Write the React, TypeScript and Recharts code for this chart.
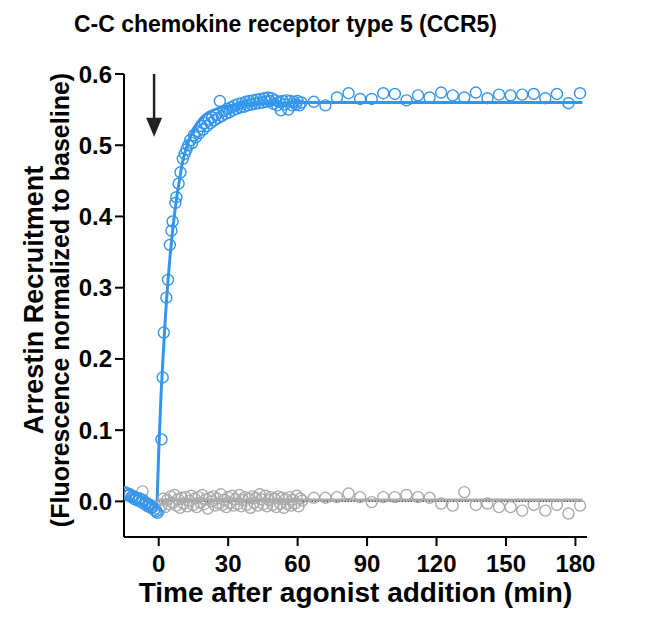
import React from "react";
import {
  ComposedChart,
  Scatter,
  Line,
  XAxis,
  YAxis,
  ReferenceLine,
} from "recharts";

const BLUE = "#3396EE";
const GRAY = "#ABABAB";
const FONT = "'Liberation Sans', Arial, Helvetica, sans-serif";

// [time (min), normalized fluorescence]
const bluePre: [number, number][] = [
  [-14.5, 0.013], [-13.8, 0.011], [-13.1, 0.008], [-12.4, 0.01], [-11.7, 0.006],
  [-11.0, 0.007], [-10.3, 0.003], [-9.6, 0.005], [-8.9, 0.001], [-8.2, 0.004],
  [-7.5, -0.001], [-6.8, 0.002], [-6.1, -0.004], [-5.4, -0.002], [-4.7, -0.007],
  [-4.0, -0.005], [-3.3, -0.009], [-2.6, -0.008], [-1.9, -0.012], [-1.2, -0.014],
  [-0.5, -0.016],
];

const blueRise: [number, number][] = [
  [1.2, 0.087], [1.7, 0.174], [2.2, 0.237], [3.3, 0.286], [4.0, 0.311],
  [4.8, 0.36], [5.5, 0.38], [6.0, 0.393], [7.2, 0.419], [7.6, 0.427],
  [8.6, 0.446], [9.4, 0.462], [10.4, 0.481],
];

const blueDense: [number, number][] = [
  [11.2, 0.488], [12.0, 0.494], [12.8, 0.5], [13.6, 0.507], [14.4, 0.503],
  [15.2, 0.514], [16.0, 0.511], [16.8, 0.52], [17.6, 0.517], [18.4, 0.527],
  [19.2, 0.522], [20.0, 0.531], [20.8, 0.527], [21.6, 0.536], [22.4, 0.531],
  [23.2, 0.539], [24.0, 0.535], [24.8, 0.543], [25.6, 0.538], [26.4, 0.562],
  [27.2, 0.541], [28.0, 0.548], [28.8, 0.544], [29.6, 0.551], [30.4, 0.546],
  [31.2, 0.553], [32.0, 0.549], [32.8, 0.556], [33.6, 0.551], [34.4, 0.558],
  [35.2, 0.553], [36.0, 0.559], [36.8, 0.554], [37.6, 0.561], [38.4, 0.556],
  [39.2, 0.562], [40.0, 0.557], [40.8, 0.563], [41.6, 0.558], [42.4, 0.564],
  [43.2, 0.559], [44.0, 0.565], [44.8, 0.56], [45.6, 0.566], [46.4, 0.561],
  [47.2, 0.567], [48.0, 0.562], [48.8, 0.566], [49.6, 0.558], [50.4, 0.563],
  [51.2, 0.556], [52.0, 0.561], [52.8, 0.549], [53.6, 0.562], [54.4, 0.557],
  [55.2, 0.563], [56.0, 0.55], [56.8, 0.562], [57.6, 0.556], [58.4, 0.561],
  [59.2, 0.557], [60.0, 0.562], [60.8, 0.556], [61.6, 0.56],
];

const bluePlateau: [number, number][] = [
  [67, 0.561], [72, 0.556], [77, 0.567], [82, 0.573], [87, 0.565], [92, 0.565],
  [97, 0.573], [102, 0.572], [107, 0.563], [112, 0.57], [117, 0.567], [122, 0.574],
  [127, 0.57], [132, 0.567], [137, 0.574], [142, 0.566], [147, 0.571], [152, 0.57],
  [157, 0.571], [162, 0.572], [167, 0.566], [172, 0.572], [177, 0.559], [182, 0.573],
];

const grayPre: [number, number][] = [
  [-14.2, 0.012], [-12.8, 0.009], [-11.3, 0.008], [-9.9, 0.005], [-8.4, 0.004],
  [-7.0, 0.014], [-5.6, -0.002], [-4.2, -0.004], [-2.8, -0.006], [-1.4, -0.01],
];

const grayDense: [number, number][] = [
  [0.4, -0.012], [1.2, -0.006], [2.0, 0.004], [2.8, -0.008], [3.6, 0.002],
  [4.4, -0.004], [5.2, 0.007], [6.0, -0.002], [6.8, 0.009], [7.6, -0.006],
  [8.4, 0.003], [9.2, -0.009], [10.0, 0.005], [10.8, -0.003], [11.6, 0.006],
  [12.4, -0.007], [13.2, 0.001], [14.0, 0.008], [14.8, -0.005], [15.6, 0.004],
  [16.4, -0.008], [17.2, 0.006], [18.0, -0.002], [18.8, 0.009], [19.6, -0.004],
  [20.4, 0.003], [21.2, -0.01], [22.0, 0.005], [22.8, 0.0], [23.6, 0.007],
  [24.4, -0.006], [25.2, 0.004], [26.0, -0.003], [26.8, 0.01], [27.6, -0.005],
  [28.4, 0.002], [29.2, -0.008], [30.0, 0.006], [30.8, -0.002], [31.6, 0.008],
  [32.4, -0.006], [33.2, 0.003], [34.0, -0.004], [34.8, 0.009], [35.6, -0.007],
  [36.4, 0.002], [37.2, 0.006], [38.0, -0.005], [38.8, 0.004], [39.6, -0.009],
  [40.4, 0.007], [41.2, -0.002], [42.0, 0.005], [42.8, -0.006], [43.6, 0.01],
  [44.4, 0.003], [45.2, -0.004], [46.0, 0.008], [46.8, -0.007], [47.6, 0.002],
  [48.4, 0.006], [49.2, -0.005], [50.0, 0.004], [50.8, -0.008], [51.6, 0.007],
  [52.4, -0.003], [53.2, 0.005], [54.0, -0.009], [54.8, 0.003], [55.6, -0.004],
  [56.4, 0.006], [57.2, -0.006], [58.0, 0.002], [58.8, -0.003], [59.6, 0.008],
  [60.4, -0.007], [61.2, 0.004], [62.0, 0.001],
];

const grayLate: [number, number][] = [
  [67, 0.005], [72, 0.005], [77, 0.006], [82, 0.011], [87, 0.006], [92, -0.001],
  [97, 0.006], [102, 0.006], [107, 0.009], [112, 0.006], [117, 0.005], [122, -0.003],
  [127, -0.006], [132, 0.013], [137, -0.005], [142, -0.003], [147, -0.008], [152, -0.008],
  [157, -0.013], [162, -0.005], [167, -0.013], [172, -0.005], [177, -0.017], [182, -0.006],
];

// fitted curves
const blueFit: [number, number][] = [
  [-0.7, 0.0], [0, 0.07], [1, 0.15], [2, 0.21], [3, 0.265], [4, 0.31], [5, 0.348],
  [6, 0.38], [7, 0.408], [8, 0.432], [9, 0.452], [10, 0.472], [12, 0.497],
  [14, 0.515], [16, 0.528], [18, 0.537], [20, 0.543], [25, 0.551], [30, 0.555],
  [40, 0.558], [50, 0.559], [60, 0.56], [183, 0.56],
];
const grayFit: [number, number][] = [[0, 0.002], [183, 0.002]];

const xTicks = [0, 30, 60, 90, 120, 150, 180];
const yTicks = [0, 0.1, 0.2, 0.3, 0.4, 0.5, 0.6];

const toPts = (arr: [number, number][]) => arr.map(([t, v]) => ({ t, v }));

const ring = (color: string) => (p: any) => (
  <circle cx={p.cx} cy={p.cy} r={5.5} fill="none" stroke={color} strokeWidth={1.4} />
);

const Arrow = (p: any) => {
  const { x1, y1, x2, y2 } = p;
  return (
    <g>
      <line x1={x1} y1={y1} x2={x2} y2={y2 - 16} stroke="#222" strokeWidth={2.5} />
      <polygon points={`${x2 - 8},${y2 - 19} ${x2 + 8},${y2 - 19} ${x2},${y2}`} fill="#222" />
    </g>
  );
};

const YLabel = () => (
  <g fontFamily={FONT} fontWeight="bold" fill="#000">
    <text x={26} y={292} transform="rotate(-90, 26, 292)" textAnchor="middle" dominantBaseline="central" fontSize={27}>
      Arrestin Recruitment
    </text>
    <text x={52} y={292} transform="rotate(-90, 52, 292)" textAnchor="middle" dominantBaseline="central" fontSize={25}>
      (Fluorescence normalized to baseline)
    </text>
  </g>
);

const XLabel = (p: any) => {
  const vb = p.viewBox || { x: 116, width: 463 };
  return (
    <text x={vb.x + vb.width / 2} y={594} textAnchor="middle" fontFamily={FONT} fontWeight="bold" fontSize={28} fill="#000">
      Time after agonist addition (min)
    </text>
  );
};

const tickStyle = { fontSize: 24, fontWeight: "bold", fill: "#000", fontFamily: FONT };

export default function App() {
  return (
    <div style={{ position: "relative", width: 642, height: 607 }}>
      <div
        style={{
          position: "absolute",
          top: 5,
          left: 0,
          width: 555,
          textAlign: "center",
          fontFamily: FONT,
          fontWeight: "bold",
          fontSize: 23,
          lineHeight: "23px",
          color: "#000",
        }}
      >
        C-C chemokine receptor type 5 (CCR5)
      </div>
      <ComposedChart width={642} height={607} margin={{ top: 66, right: 63, bottom: 18, left: 56 }}>
        <XAxis
          type="number"
          dataKey="t"
          domain={[-15, 185]}
          ticks={xTicks}
          allowDataOverflow
          height={60}
          tickSize={9}
          tickMargin={9}
          tick={tickStyle}
          axisLine={{ stroke: "#000", strokeWidth: 2 }}
          tickLine={{ stroke: "#000", strokeWidth: 2 }}
          label={{ content: XLabel }}
        />
        <YAxis
          type="number"
          domain={[-0.05, 0.6]}
          ticks={yTicks}
          allowDataOverflow
          width={60}
          tickSize={9}
          tickMargin={3}
          tick={tickStyle}
          tickFormatter={(v: number) => v.toFixed(1)}
          axisLine={{ stroke: "#000", strokeWidth: 2 }}
          tickLine={{ stroke: "#000", strokeWidth: 2 }}
          label={{ content: YLabel }}
        />
        <Scatter data={toPts([...grayPre, ...grayDense, ...grayLate])} dataKey="v" shape={ring(GRAY)} isAnimationActive={false} />
        <Line data={toPts(grayFit)} dataKey="v" stroke={GRAY} strokeWidth={3} dot={false} isAnimationActive={false} />
        <ReferenceLine
          segment={[{ x: 0, y: 0 }, { x: 183, y: 0 }]}
          stroke="#000"
          strokeWidth={1}
          strokeDasharray="1 2"
        />
        <Scatter
          data={toPts([...bluePre, ...blueRise, ...blueDense, ...bluePlateau])}
          dataKey="v"
          shape={ring(BLUE)}
          isAnimationActive={false}
        />
        <Line data={toPts(blueFit)} dataKey="v" type="monotone" stroke={BLUE} strokeWidth={3} dot={false} isAnimationActive={false} />
        <ReferenceLine
          segment={[{ x: -2, y: 0.6 }, { x: -2, y: 0.512 }]}
          ifOverflow="visible"
          shape={Arrow}
        />
      </ComposedChart>
    </div>
  );
}
